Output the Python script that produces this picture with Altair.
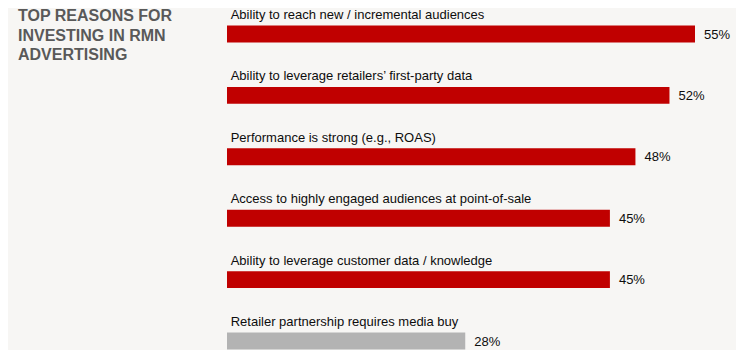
import altair as alt
import pandas as pd

categories = [
    "Ability to reach new / incremental audiences",
    "Ability to leverage retailers\u2019 first-party data",
    "Performance is strong (e.g., ROAS)",
    "Access to highly engaged audiences at point-of-sale",
    "Ability to leverage customer data / knowledge",
    "Retailer partnership requires media buy",
]
values = [55, 52, 48, 45, 45, 28]
groups = ["main", "main", "main", "main", "main", "other"]
title_lines = ["TOP REASONS FOR", "INVESTING IN RMN", "ADVERTISING"]

df = pd.DataFrame({
    "category": categories,
    "value": values,
    "group": groups,
    "label": [f"{v}%" for v in values],
})

FONT = "Liberation Sans"
c0, c5 = 26, 333
step = (c5 - c0) / 5
yscale = alt.Scale(domain=categories, range=[c0 - step / 2, c5 + step / 2],
                   paddingInner=0.724, paddingOuter=0.362)
xscale = alt.Scale(domain=[0, 55], range=[219, 687], zero=True, nice=False)

base = alt.Chart(df)
Y = alt.Y("category:N", scale=yscale, axis=None, sort=categories)

bars = base.mark_bar().encode(
    x=alt.X("value:Q", scale=xscale, axis=None),
    y=Y,
    color=alt.Color("group:N", scale=alt.Scale(domain=["main", "other"],
                                               range=["#c00000", "#b3b3b3"]), legend=None),
)

cat_text = base.mark_text(align="left", baseline="alphabetic", dy=-15, font=FONT,
                          fontSize=13, color="#0d0d0d").encode(
    x=alt.value(222.7),
    y=Y,
    text="category:N",
)

val_text = base.mark_text(align="left", baseline="middle", dx=9, dy=0.5, font=FONT,
                          fontSize=13, color="#0d0d0d").encode(
    x=alt.X("value:Q", scale=xscale, axis=None),
    y=Y,
    text="label:N",
)

title = alt.Chart(pd.DataFrame({"t": [0]})).mark_text(
    align="left", baseline="alphabetic", font=FONT, fontSize=16, fontWeight="bold",
    color="#595959", lineHeight=19.5,
).encode(
    x=alt.value(10),
    y=alt.value(13),
    text=alt.value(title_lines),
)

chart = alt.layer(bars, cat_text, val_text, title).properties(
    width=728, height=342,
    autosize=alt.AutoSizeParams(type="none"),
    padding=0,
    background="#f7f6f4",
).configure_view(stroke=None)

chart.save("out.html", embed_options={"renderer": "svg", "actions": False})
